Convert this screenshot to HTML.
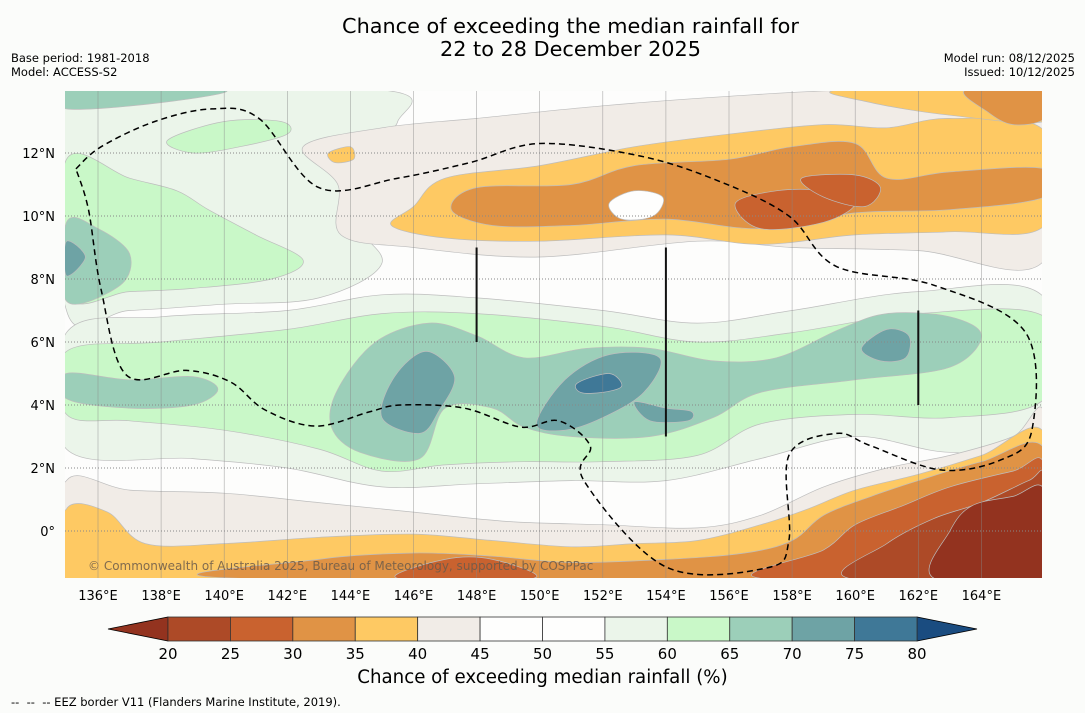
<!DOCTYPE html>
<html><head><meta charset="utf-8">
<style>
body{margin:0;background:#fbfcfa;font-family:"Liberation Sans","DejaVu Sans",sans-serif;}
#wrap{position:relative;width:1085px;height:713px;overflow:hidden;background:#fbfcfa;}
.t{position:absolute;color:#000;white-space:nowrap;font-family:"DejaVu Sans","Liberation Sans",sans-serif;}
</style></head>
<body>
<div id="wrap">
<div class="t" style="left:0;width:1141px;text-align:center;top:15px;font-size:20.8px;line-height:23px;">Chance of exceeding the median rainfall for<br>22 to 28 December 2025</div>
<div class="t" style="left:11px;top:51px;font-size:11.5px;line-height:14px;">Base period: 1981-2018<br>Model: ACCESS-S2</div>
<div class="t" style="right:10px;top:51px;font-size:11.5px;line-height:14px;text-align:right;">Model run: 08/12/2025<br>Issued: 10/12/2025</div>
<div class="t" style="left:0;width:1085px;text-align:center;top:667px;font-size:18.2px;">Chance of exceeding median rainfall (%)</div>
<div class="t" style="left:11px;top:695px;font-size:11.5px;">--&nbsp; --&nbsp; -- EEZ border V11 (Flanders Marine Institute, 2019).</div>
<svg id="svg" width="1085" height="713" style="position:absolute;left:0;top:0"></svg>
</div>
<script>
const levels=[20,25,30,35,40,45,50,55,60,65,70,75,80];
const colors=['#ad4a27','#c9622f','#e09345','#fec963','#f1ece7','#fefefd','#fefefd','#ebf5ea','#c9f8c8','#9ccfb9','#6ea3a5','#3f7897'];
const lonTicks=[136,138,140,142,144,146,148,150,152,154,156,158,160,162,164];
const latTicks=[0,2,4,6,8,10,12];
// contour regions: [colorIndex, [[lon,lat],...]]
const regions=[
[7,[[135,14],[145,14],[145.5,13],[144.5,12],[144,10],[145,8.5],[143,7.4],[140,7.2],[137,7],[135,7]]],
[8,[[135,11.8],[137,11.2],[138.5,10.8],[139.5,10.2],[141,9.4],[142.5,8.6],[141.5,8],[139,7.7],[137,7.6],[135,7.5]]],
[8,[[138.2,12.4],[140,13],[141.8,13],[142,12.6],[140.5,12.2],[139,12]]],
[9,[[135,14],[140,14],[138,13.6],[135,13.4]]],
[9,[[135,9.8],[136,9.6],[137,8.8],[136.7,7.8],[135,7.3]]],
[10,[[135,9.2],[135.6,8.7],[135,8.1]]],
[4,[[142.5,12.2],[145,12.8],[148,13.1],[152,13.5],[156,13.8],[160,14],[166,14],[166,8.6],[162,8.9],[158,9.0],[155,9.2],[150,8.7],[146,9.0],[143.7,9.4],[143.6,11]]],
[3,[[146,10.3],[147,11.2],[150,11.6],[153,12.2],[156,12.6],[159,12.9],[161,12.8],[163,13.1],[166,12.7],[166,9.7],[163,9.5],[160,9.4],[157,9.1],[154,9.4],[150,9.2],[147,9.3],[145.3,9.7]]],
[3,[[159.5,14],[166,14],[166,13],[163,13.2],[160.5,13.6]]],
[3,[[143.3,12],[144,12.2],[144.1,11.8],[143.5,11.7]]],
[2,[[147.2,10.2],[148,10.9],[151,11],[153,11.6],[156,11.8],[158,12.2],[160,12.3],[161,11.2],[163,11.4],[166,11.5],[166,10.6],[163,10.2],[160,10.1],[157,9.6],[154,9.9],[151,9.7],[148.5,9.7]]],
[2,[[163.5,14],[166,14],[166,13.1],[165,12.9],[164.2,13.3]]],
[1,[[156.2,10.4],[157.5,10.8],[159,10.8],[160,10.4],[159,9.8],[157,9.6]]],
[1,[[158.3,11.2],[160,11.3],[160.8,10.9],[160.3,10.3],[159,10.6]]],
[5,[[152.2,10.4],[153,10.8],[153.9,10.6],[153.6,10.0],[152.6,9.9]]],
[7,[[135,6.3],[138,6.8],[142,7.0],[145,7.5],[148,7.4],[152,7.0],[155,6.6],[158,7.0],[162,7.6],[166,7.4],[166,2.9],[163,2.5],[160,3.0],[157,2.3],[154,1.6],[151,1.6],[148,1.5],[145,1.4],[142,2.0],[139,2.3],[135,2.6]]],
[8,[[135,5.7],[138,6.0],[142,6.4],[145,6.9],[148,6.9],[152,6.5],[155,6.0],[158,6.3],[162,6.9],[166,6.8],[166,4.2],[163,3.6],[160,3.7],[157,3.4],[155,2.4],[152,2.2],[149.5,2.2],[147,2.1],[145,1.9],[143,2.6],[140,3.2],[137,3.5],[135,3.7]]],
[9,[[135,5.0],[137,4.8],[139,4.9],[139.8,4.5],[139,4.0],[137,3.9],[135,4.2]]],
[9,[[143.6,4.5],[144.8,6.0],[146.5,6.6],[148,6.2],[149.5,5.5],[151.5,5.8],[153.5,5.8],[155.5,5.4],[157.5,5.5],[159.5,6.4],[161,6.9],[163,6.8],[164,6.2],[163,5.2],[160,4.8],[157,4.4],[155.5,3.6],[153.5,3.0],[151,3.0],[149.5,3.3],[148.5,3.9],[147,3.9],[146.2,2.3],[144.3,2.5],[143.4,3.3]]],
[10,[[145,3.6],[145.4,4.9],[146.4,5.7],[147.3,4.9],[146.8,3.8],[146.2,3.1]]],
[10,[[149.9,3.4],[150.8,4.8],[152.2,5.6],[153.8,5.5],[153.3,4.4],[152,3.6],[150.8,3.2]]],
[10,[[160.2,5.8],[161,6.4],[161.7,6.2],[161.6,5.5],[160.8,5.4]]],
[10,[[153,4.1],[154,3.9],[154.8,3.8],[154.7,3.5],[153.5,3.5]]],
[11,[[151.2,4.7],[152.2,5.0],[152.6,4.6],[152,4.4],[151.3,4.4]]],
[4,[[135,1.6],[137,1.3],[140,1.2],[143,0.9],[146,0.6],[149,0.3],[152,0.2],[155,0.1],[157,0.5],[159,1.4],[161,2.0],[163,2.4],[165,3.0],[166,3.7],[166,-1.5],[135,-1.5]]],
[3,[[135,0.7],[136.3,0.6],[137.5,-0.4],[140,-0.4],[143,-0.2],[146,-0.1],[148.5,-0.3],[151,-0.5],[153,-0.4],[155,-0.3],[157,0.2],[158.5,0.7],[160,1.3],[162,1.8],[164,2.4],[166,3.1],[166,-1.5],[135,-1.5]]],
[2,[[140.5,-1.5],[143,-0.9],[146,-0.7],[148.5,-0.8],[151,-1.0],[154,-0.9],[156.5,-0.7],[158,-0.3],[159,0.5],[160.5,1.1],[162,1.6],[164,2.2],[166,2.6],[166,-1.5]]],
[1,[[145.5,-1.5],[147,-0.9],[148.5,-0.9],[149.8,-1.5]]],
[1,[[157,-1.5],[159,-0.6],[160,0.2],[161.5,0.8],[163,1.4],[165,1.9],[166,2.1],[166,-1.5]]],
[0,[[159.8,-1.5],[161,-0.4],[162.5,0.4],[164,0.9],[165.5,1.6],[166,1.7],[166,-1.5]]],
[-1,[[162.5,-1.5],[163,0.0],[163.7,0.8],[165,1.1],[166,1.3],[166,-1.5]]]
];
const eez=[[135.3,11.5],[136.1,12.2],[137.8,13.0],[139.6,13.4],[141.1,13.1],[143,10.9],[145.5,11.2],[147.8,11.7],[150,12.3],[153.2,11.9],[155.7,11.1],[157.9,10],[159.4,8.4],[162.5,7.8],[165.4,6.3],[165.6,3.2],[164.6,2.25],[162.7,1.94],[160.5,2.7],[159.4,3.1],[157.9,2.4],[157.9,-0.3],[157.2,-1.17],[154,-1.14],[151.4,1.6],[151.6,2.7],[150.6,3.5],[149.4,3.3],[147.6,3.9],[145.6,4.0],[144.6,3.78],[142.9,3.33],[141.3,3.84],[140.2,4.73],[138.8,5.1],[136.9,4.95],[136.1,7.65],[135.7,10.2],[135.3,11.5]];
const bars=[[148,9,6],[154,9,3],[162,7,4]];

const X0=65,X1=1042,Y0=91,Y1=578;
const px=lon=>98+(lon-136)*31.55;
const py=lat=>531-lat*31.5;
const NS='http://www.w3.org/2000/svg';
const svg=document.getElementById('svg');
function mk(tag,attrs,parent){const e=document.createElementNS(NS,tag);for(const k in attrs)e.setAttribute(k,attrs[k]);(parent||svg).appendChild(e);return e;}
function smooth(pts,closed){
  const P=pts.map(p=>[px(p[0]),py(p[1])]);const n=P.length;let d='M'+P[0][0].toFixed(1)+','+P[0][1].toFixed(1);
  const g=i=>closed?P[(i+n)%n]:P[Math.max(0,Math.min(n-1,i))];
  const m=closed?n:n-1;
  for(let i=0;i<m;i++){const p0=g(i-1),p1=g(i),p2=g(i+1),p3=g(i+2);
    const c1=[p1[0]+(p2[0]-p0[0])/6,p1[1]+(p2[1]-p0[1])/6],c2=[p2[0]-(p3[0]-p1[0])/6,p2[1]-(p3[1]-p1[1])/6];
    d+='C'+c1.map(v=>v.toFixed(1))+' '+c2.map(v=>v.toFixed(1))+' '+p2.map(v=>v.toFixed(1));}
  return d+(closed?'Z':'');
}
const defs=mk('defs',{});
const cp=mk('clipPath',{id:'clip'},defs);
mk('rect',{x:X0,y:Y0,width:X1-X0,height:Y1-Y0},cp);
const map=mk('g',{'clip-path':'url(#clip)'});


const bg=mk('rect',{x:X0,y:Y0,width:X1-X0,height:Y1-Y0,fill:'#fdfdfc'},map);


regions.forEach((r,i)=>{
  const fill=r[0]<0?'#93331f':colors[r[0]];
  const p=mk('path',{d:smooth(r[1],true),fill:fill,stroke:'#bdbdbd','stroke-width':0.7},map);
  
  
});
lonTicks.forEach(l=>{const ln=mk('line',{x1:px(l),x2:px(l),y1:Y0,y2:Y1,stroke:'#888','stroke-width':0.6,'stroke-opacity':0.7},map);
  
  });
latTicks.forEach(l=>{const ln=mk('line',{x1:X0,x2:X1,y1:py(l),y2:py(l),stroke:'#888','stroke-width':1,'stroke-dasharray':'1,2'},map);
  
  });
const ez=mk('path',{d:smooth(eez,false),fill:'none',stroke:'#000','stroke-width':1.5,'stroke-dasharray':'6,4'},map);


bars.forEach(b=>{const ln=mk('line',{x1:px(b[0]),x2:px(b[0]),y1:py(b[1]),y2:py(b[2]),stroke:'#111','stroke-width':2},map);
  
  });
const cr=mk('text',{x:88,y:570,'font-size':12,fill:'#6b5a4a','fill-opacity':0.85,'font-family':'DejaVu Sans, Liberation Sans, sans-serif'},map);
cr.textContent='© Commonwealth of Australia 2025, Bureau of Meteorology, supported by COSPPac';


lonTicks.forEach(l=>{const t=mk('text',{x:px(l),y:600,'font-size':13,'text-anchor':'middle','font-family':'DejaVu Sans, sans-serif'});t.textContent=l+'°E';
  
  });
latTicks.forEach(l=>{const t=mk('text',{x:55,y:py(l)+5,'font-size':13,'text-anchor':'end','font-family':'DejaVu Sans, sans-serif'});t.textContent=l===0?'0°':l+'°N';
  
  });
const cbx=v=>168+(v-20)*(917-168)/60;const cy0=617,cy1=641;
const cb=mk('g',{});


const lt=mk('polygon',{points:`108,629 ${cbx(20)},${cy0} ${cbx(20)},${cy1}`,fill:'#93331f',stroke:'#000','stroke-width':0.8},cb);


const rt=mk('polygon',{points:`977,629 ${cbx(80)},${cy0} ${cbx(80)},${cy1}`,fill:'#1a4c80',stroke:'#000','stroke-width':0.8},cb);


colors.forEach((c,i)=>{const r=mk('rect',{x:cbx(levels[i]),y:cy0,width:cbx(levels[i+1])-cbx(levels[i]),height:cy1-cy0,fill:c,stroke:'#333','stroke-width':0.8},cb);
  
  });
levels.forEach(v=>{const t=mk('text',{x:cbx(v),y:659,'font-size':15,'text-anchor':'middle','font-family':'DejaVu Sans, sans-serif'},cb);t.textContent=v;
  
  });
</script>
</body></html>
